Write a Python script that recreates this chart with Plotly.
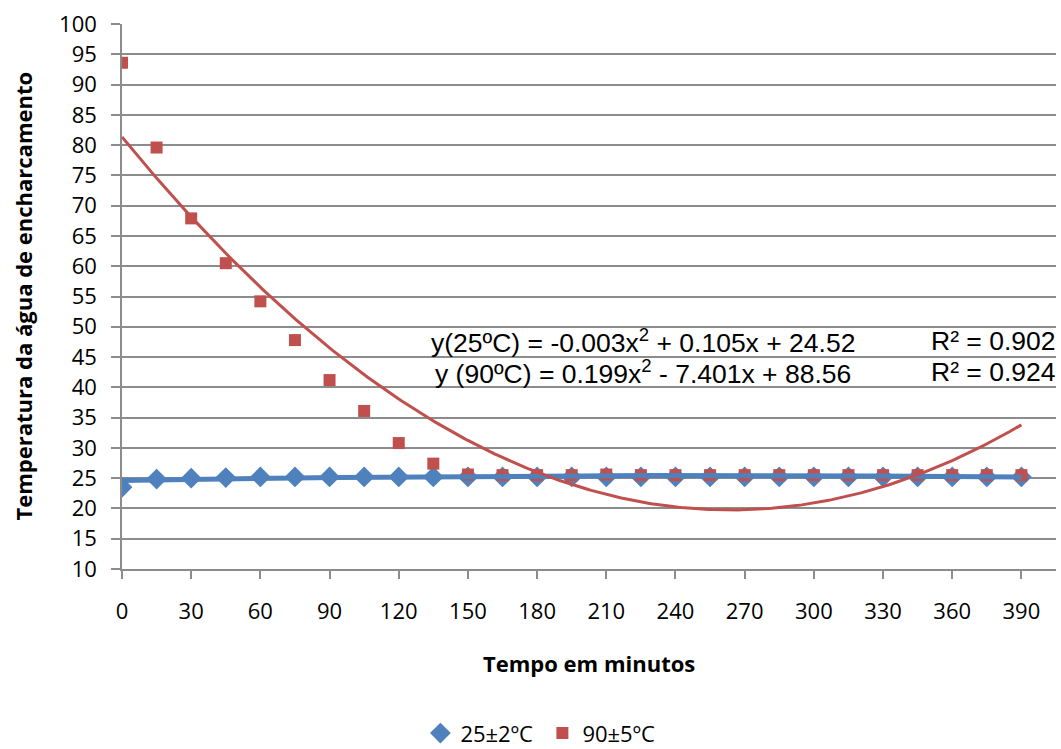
import numpy as np
import plotly.graph_objects as go

# ---- data ----
time_min = [0, 15, 30, 45, 60, 75, 90, 105, 120, 135, 150, 165, 180, 195,
            210, 225, 240, 255, 270, 285, 300, 315, 330, 345, 360, 375, 390]
temp_25 = [23.5, 24.85, 25.0, 25.1, 25.2, 25.2, 25.2, 25.2, 25.2, 25.2, 25.2, 25.2, 25.2, 25.2,
           25.2, 25.2, 25.2, 25.2, 25.2, 25.2, 25.2, 25.2, 25.2, 25.2, 25.2, 25.2, 25.2]
temp_90 = [93.6, 79.6, 67.9, 60.5, 54.2, 47.8, 41.2, 36.1, 30.8, 27.4, 25.6, 25.5, 25.5, 25.5,
           25.6, 25.5, 25.5, 25.5, 25.5, 25.5, 25.5, 25.5, 25.5, 25.5, 25.5, 25.5, 25.5]
# polynomial trendline coefficients (x = point index 1..n), as printed on the chart
coef_25 = [-0.003, 0.105, 24.52]
coef_90 = [0.199, -7.401, 88.56]
x_ticks = list(range(0, 391, 30))
y_ticks = list(range(10, 101, 5))
names = ["25±2ºC", "90±5ºC"]

BLUE = "#4F81BD"
RED = "#C0504D"
GRID = "#8C8C8C"
FONT = "Open Sans"

idx_fine = np.linspace(1, len(time_min), 300)
t_fine = (idx_fine - 1) * 15
trend_25 = np.polyval(coef_25, idx_fine)
trend_90 = np.polyval(coef_90, idx_fine)

fig = go.Figure()
fig.add_trace(go.Scatter(x=time_min, y=temp_25, mode="markers", name=names[0],
                         marker=dict(symbol="diamond", size=16, color=BLUE)))
fig.add_trace(go.Scatter(x=time_min, y=temp_90, mode="markers", name=names[1],
                         marker=dict(symbol="square", size=12, color=RED)))
fig.add_trace(go.Scatter(x=t_fine, y=trend_25, mode="lines", showlegend=False,
                         line=dict(color=BLUE, width=5), hoverinfo="skip"))
fig.add_trace(go.Scatter(x=t_fine, y=trend_90, mode="lines", showlegend=False,
                         line=dict(color=RED, width=3), hoverinfo="skip"))

fig.update_xaxes(range=[0, 405], tickvals=x_ticks, ticks="outside", ticklen=8,
                 tickcolor=GRID, tickwidth=1.5, showline=True, linecolor=GRID,
                 linewidth=1.5, showgrid=False, zeroline=False, automargin=False,
                 tickfont=dict(family=FONT, size=22, color="black"),
                 ticklabelstandoff=14)
fig.update_yaxes(range=[10, 100], tickvals=y_ticks, ticks="outside", ticklen=9,
                 tickcolor=GRID, tickwidth=1.5, showline=True, linecolor=GRID,
                 linewidth=1.5, showgrid=True, gridcolor=GRID, gridwidth=1.5,
                 zeroline=False, automargin=False,
                 tickfont=dict(family=FONT, size=22, color="black"),
                 ticklabelstandoff=10)

eq_font = dict(family="Liberation Sans, Arial", size=26.5, color="black")
annotations = [
    dict(text="Tempo em minutos", xref="paper", yref="paper", x=0.5, y=0,
         xanchor="center", yanchor="middle", yshift=-94, showarrow=False,
         font=dict(family=FONT, size=22, color="black", weight="bold")),
    dict(text="Temperatura da água de encharcamento", xref="paper", yref="paper",
         x=0, y=0.5, xanchor="center", yanchor="middle", xshift=-100, textangle=-90,
         showarrow=False,
         font=dict(family=FONT, size=22, color="black", weight="bold")),
    dict(text="y(25ºC) = -0.003x<sup>2</sup> + 0.105x + 24.52", xref="x", yref="y",
         x=226, y=47.6, xanchor="center", yanchor="middle", showarrow=False, font=eq_font),
    dict(text="y (90ºC) = 0.199x<sup>2</sup> - 7.401x + 88.56", xref="x", yref="y",
         x=226, y=42.5, xanchor="center", yanchor="middle", showarrow=False, font=eq_font),
    dict(text="R² = 0.902", xref="x", yref="y", x=349.9, y=47.6, xanchor="left",
         yanchor="middle", showarrow=False, font=eq_font),
    dict(text="R² = 0.924", xref="x", yref="y", x=349.9, y=42.5, xanchor="left",
         yanchor="middle", showarrow=False, font=eq_font),
]

fig.update_layout(
    width=1061, height=749,
    margin=dict(l=122, r=5, t=24, b=180, autoexpand=False),
    plot_bgcolor="white", paper_bgcolor="white",
    annotations=annotations,
    legend=dict(orientation="h", xref="container", yref="container",
                x=0.5112, xanchor="center", y=0.021, yanchor="middle",
                font=dict(family=FONT, size=22, color="black"),
                itemwidth=30, entrywidth=77, tracegroupgap=0),
    showlegend=True,
)

fig.write_html("out.html", config={"displayModeBar": False},
               post_script="document.body.style.margin='0';document.body.style.overflow='hidden';")
